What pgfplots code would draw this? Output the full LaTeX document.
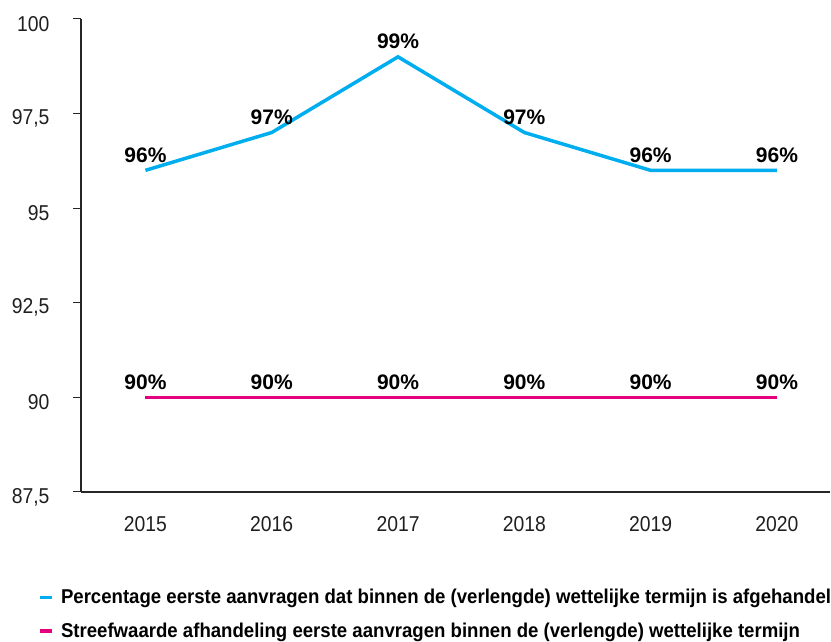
\documentclass[border=0pt]{standalone}
\usepackage{fontspec}
\setmainfont{Liberation Sans}
\newfontfamily\condfont{Liberation Sans}[FakeStretch=0.93]
\newfontfamily\tickfont{Liberation Sans}[FakeStretch=0.9]
\usepackage{pgfplots}
\pgfplotsset{compat=1.18}
\definecolor{cblue}{HTML}{00AEEF}
\definecolor{cpink}{HTML}{E5007D}
\begin{document}
\begin{tikzpicture}
\begin{axis}[
  at={(0,0)}, anchor=south west,
  scale only axis, width=749pt, height=473pt,
  xmin=2014.49, xmax=2020.42, ymin=87.5, ymax=100,
  xtick={2015,2016,2017,2018,2019,2020},
  ytick={87.5,90,92.5,95,97.5,100},
  axis x line*=bottom, axis y line*=left,
  axis line style={line width=1.2pt, color=black!85},
  tick align=outside, major tick length=8pt,
  xtick style={draw=none},
  ytick style={line width=1pt, color=black!85},
  /pgf/number format/assume math mode=true,
  /pgf/number format/use comma,
  x tick label style={/pgf/number format/1000 sep={}, yshift=-13pt},
  y tick label style={anchor=east, xshift=-20pt, yshift=-5pt},
  tick label style={font=\tickfont\fontsize{21.5}{24}\selectfont, text=black!88},
  clip=false,
  nodes near coords={\pgfmathprintnumber[fixed,precision=0]{\pgfplotspointmeta}\%},
  nodes near coords style={font=\fontsize{21}{24}\selectfont\bfseries, anchor=south, yshift=3pt, text=black},
  legend style={at={(-0.061,-0.197)}, anchor=north west, draw=none, fill=none,
    font=\condfont\fontsize{20}{23}\selectfont\bfseries, row sep=13.5pt,
    /tikz/every odd column/.append style={column sep=5pt}},
  legend cell align=left,
  legend image code/.code={\draw[#1, line width=3.5pt] (0pt,0pt) -- (12pt,0pt);},
]
\addplot[cblue, line width=3.5pt] coordinates {(2015,96) (2016,97) (2017,99) (2018,97) (2019,96) (2020,96)};
\addlegendentry{Percentage eerste aanvragen dat binnen de (verlengde) wettelijke termijn is afgehandel}
\addplot[cpink, line width=3.5pt] coordinates {(2015,90) (2016,90) (2017,90) (2018,90) (2019,90) (2020,90)};
\addlegendentry{Streefwaarde afhandeling eerste aanvragen binnen de (verlengde) wettelijke termijn}
\end{axis}
\pgfresetboundingbox
\useasboundingbox (-81pt,-150pt) rectangle (750pt,492pt);
\end{tikzpicture}
\end{document}
